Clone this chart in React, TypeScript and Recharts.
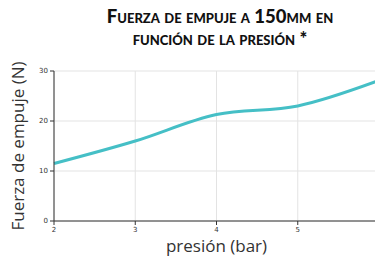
import { CartesianGrid, Label, Line, LineChart, XAxis, YAxis } from "recharts";

const presion = [2, 3, 4, 5, 6];
const fuerza = [11.5, 16, 21.3, 23, 28.1];
const xTicks = [2, 3, 4, 5];
const yTicks = [0, 10, 20, 30];

const data = presion.map((p, i) => ({ presion: p, fuerza: fuerza[i] }));

const tickStyle = { fontSize: 7, fill: "#333", fontFamily: "DejaVu Sans" };

export default function App() {
  return (
    <div
      style={{
        position: "absolute",
        left: 0,
        top: 0,
        width: 375,
        height: 256,
        overflow: "hidden",
        background: "#fff",
      }}
    >
      <div
        style={{
          position: "absolute",
          left: 60,
          width: 320,
          top: 5,
          textAlign: "center",
          fontFamily: "Lato",
          fontWeight: 900,
          fontVariant: "small-caps",
          fontSize: 18.5,
          lineHeight: "22px",
          color: "#111",
        }}
      >
        Fuerza de empuje a 150mm en
        <br />
        función de la presión *
      </div>
      <LineChart
        width={379}
        height={256}
        data={data}
        margin={{ top: 71, right: 0, left: 0, bottom: 0 }}
      >
        <CartesianGrid stroke="#e3e3e3" />
        <XAxis
          dataKey="presion"
          type="number"
          domain={[2, 6]}
          ticks={xTicks}
          height={35}
          tick={tickStyle}
          tickSize={4}
          stroke="#333"
        >
          <Label
            value="presión (bar)"
            position="insideBottom"
            offset={4}
            style={{ fontSize: 17, fill: "#333", fontFamily: "Open Sans" }}
          />
        </XAxis>
        <YAxis
          type="number"
          domain={[0, 30]}
          ticks={yTicks}
          width={54}
          tick={tickStyle}
          tickSize={4}
          stroke="#333"
        >
          <Label
            value="Fuerza de empuje (N)"
            angle={-90}
            position="insideLeft"
            offset={18}
            style={{ fontSize: 17, fill: "#333", fontFamily: "Open Sans", textAnchor: "middle" }}
          />
        </YAxis>
        <Line
          type="monotone"
          dataKey="fuerza"
          stroke="#45bfc6"
          strokeWidth={3}
          dot={false}
          isAnimationActive={false}
        />
      </LineChart>
    </div>
  );
}
